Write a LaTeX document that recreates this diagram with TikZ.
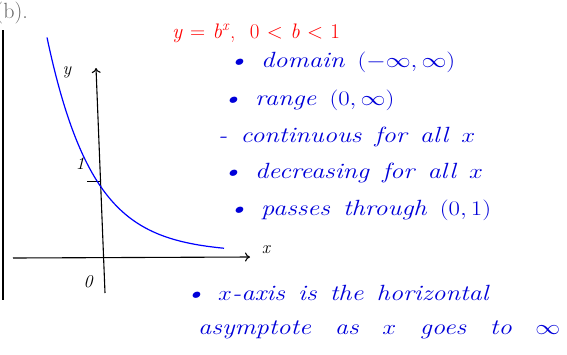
\documentclass[tikz,border=0pt]{standalone}
\usepackage{amsmath}
\usetikzlibrary{arrows.meta}
\newcommand\notefont{\fontsize{22}{26}\selectfont\itshape\spaceskip=0.5em\relax}
\newcommand\rulefont{\fontsize{21}{25}\selectfont\spaceskip=0.35em\relax}
\newcommand\labfont{\fontsize{18}{21}\selectfont\itshape}
\newcommand\partfont{\fontsize{22}{26}\selectfont}
\begin{document}
\begin{tikzpicture}[x=1pt, y=-1pt,
  axis/.style = {draw=black, line width=1.1pt, -{To[length=5pt,width=9pt]}},
  note/.style = {anchor=west, inner sep=0pt, text=blue!85!black,
    xscale=1.2, transform shape, font=\notefont},
  lab/.style = {font=\labfont},
  every node/.style = {inner sep=0pt}]
  \useasboundingbox (0,0) rectangle (567,354);
  % heading of the part, cut at the left
  \begin{scope}
    \clip (0,0) rectangle (567,354);
    \node[anchor=east, text=black!60, font=\partfont] (part) at (28,13) {(b).};
  \end{scope}
  \draw[line width=1.6pt] (3,30) coordinate (ltop) -- (3,300) coordinate (lbot);
  % axes
  \coordinate (xl) at (13,258);
  \coordinate (xr) at (250,257);
  \coordinate (yb) at (105,293);
  \coordinate (yt) at (96,68);
  \draw[axis] (xl) -- (xr);
  \draw[axis] (yb) -- (yt);
  \node[lab] (xlab) at (266,250) {x};
  \node[lab] (ylab) at (67,72) {y};
  \node[lab] (orig) at (88,282) {0};
  \coordinate (one) at (97,181);
  \draw[line width=1pt] ([xshift=-10pt]one) -- ([xshift=3pt]one);
  \node[lab] (onelab) at (80,164) {1};
  % the curve
  \draw[blue, line width=1.2pt] plot[domain=47:224, samples=80]
    (\x, {258-77*(0.07+0.93*exp(-0.022*(\x-97)))});
  % notes
  \node[anchor=west, text=red, font=\rulefont] (rule) at (172,33)
    {\textit{y} = \textit{b}\textsuperscript{\textit{x}}, \ 0 < \textit{b} < 1};
  \node[note] (dom) at (228,62) {\textbullet\ domain $(-\infty,\infty)$};
  \node[note] (ran) at (222,100) {\textbullet\ range $(0,\infty)$};
  \node[note] (con) at (218,137) {- continuous for all $x$};
  \node[note] (dec) at (222,173) {\textbullet\ decreasing for all $x$};
  \node[note] (pas) at (228,210) {\textbullet\ passes through $(0,1)$};
  \node[note] (asy) at (185,293) {\textbullet\ $x$-axis is the horizontal};
  \node[note] (goe) at (198,330) {\spaceskip=0.9em\relax asymptote as $x$ goes to $\infty$};
\end{tikzpicture}
\end{document}
